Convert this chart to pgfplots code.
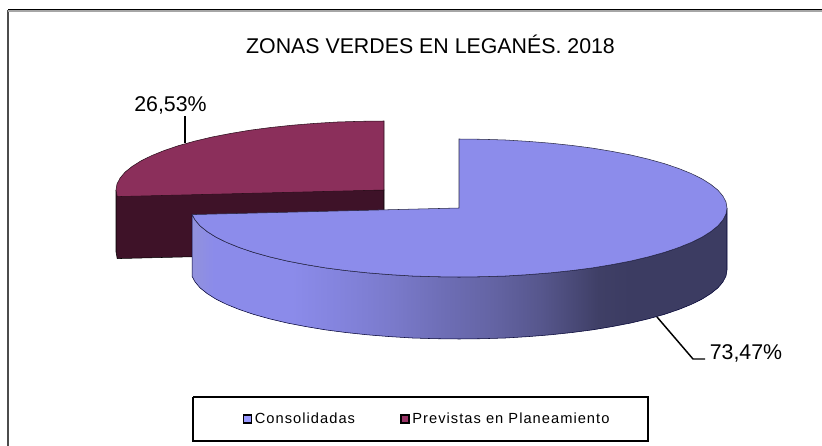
\documentclass[border=0pt]{standalone}
\usepackage{fontspec}
\setmainfont{Liberation Sans}
\newfontfamily\legfont[LetterSpace=7]{Liberation Sans}
\usepackage{pgfplots}
\pgfplotsset{compat=1.18}
\definecolor{bluetop}{HTML}{8C8CEB}
\definecolor{redtop}{HTML}{8B2F5B}
\definecolor{reddark}{HTML}{3E1228}
\definecolor{swblue}{HTML}{9999FF}
\definecolor{swred}{HTML}{993366}
\definecolor{g0}{HTML}{9292DC}
\definecolor{g1}{HTML}{8B8BEA}
\definecolor{g2}{HTML}{8383DC}
\definecolor{g3}{HTML}{7A7ACB}
\definecolor{g4}{HTML}{6E6EB6}
\definecolor{g5}{HTML}{6464A4}
\definecolor{g6}{HTML}{56568C}
\definecolor{g7}{HTML}{3F3F66}
\definecolor{g8}{HTML}{3C3C62}
\pgfdeclarehorizontalshading{sidegrad}{100bp}{
color(0bp)=(g0);color(25bp)=(g0);color(27bp)=(g1);color(34.35bp)=(g1);color(39.02bp)=(g2);color(43.69bp)=(g3);color(48.37bp)=(g4);color(53.04bp)=(g5);color(57.71bp)=(g6);color(63bp)=(g7);color(66bp)=(g8);color(100bp)=(g8)}
\begin{document}
\begin{tikzpicture}
\begin{axis}[
  scale only axis, width=616.5pt, height=334.5pt,
  xmin=0, xmax=822, ymin=0, ymax=446, y dir=reverse,
  hide axis, clip=true,
  legend style={at={(axis cs:427.5,419)}, anchor=center, draw=none, fill=none,
    font=\legfont\fontsize{11}{13}\selectfont, legend columns=2,
    /tikz/every even column/.append style={column sep=32pt}},
  legend cell align=left,
]
% page extent
\addplot[forget plot, white, line width=0pt] coordinates {(0,0)(822,0)(822,446)(0,446)(0,0)};
% frame
\addplot[forget plot, black!70, line width=1.1pt] coordinates {(8,446)(8,10)};
\addplot[forget plot, black!35, line width=0.8pt] coordinates {(8,11)(822,11)};
\addplot[forget plot, black, line width=0.8pt] coordinates {(8,9.8)(822,9.8)};
% legend box
\addplot[forget plot, black, line width=0.8pt] coordinates {(193,397)(648,397)(648,441)(193,441)(193,397)};
% red side
\addplot[forget plot, draw=black, line width=0.4pt, fill=reddark] coordinates {(116,190)(116,252)(117.2,258.6)(384,252)(384,190)(116,190)};
% red top
\addplot[forget plot, draw=black!70!redtop, line width=0.4pt, fill=redtop] coordinates {
(384,190)(384,121)(360.6,121.3)(337.5,122)(314.6,123.4)(292.3,125.2)(270.7,127.5)(250,130.2)(230.3,133.5)(211.7,137.1)(194.5,141.2)(178.7,145.6)(164.5,150.4)(151.9,155.5)(141.1,160.8)(132.2,166.4)(125.1,172.1)(120.1,178)(117,184)(116,190)(117.2,196.6)(384,190)};
% blue side
\addplot[forget plot, draw=black!80!blue, line width=0.4pt, shading=sidegrad, shading angle=0] coordinates {
(727,208)(726,214)(722.9,220)(717.9,225.9)(710.8,231.6)(701.9,237.2)(691.1,242.5)(678.5,247.6)(664.3,252.4)(648.5,256.8)(631.3,260.9)(612.7,264.5)(593,267.8)(572.3,270.5)(550.7,272.8)(528.4,274.6)(505.5,276)(482.4,276.7)(459,277)(435.6,276.7)(412.5,276)(389.6,274.6)(367.3,272.8)(345.7,270.5)(325,267.8)(305.3,264.5)(286.7,260.9)(269.5,256.8)(253.7,252.4)(239.5,247.6)(226.9,242.5)(216.1,237.2)(207.2,231.6)(200.1,225.9)(195.1,220)(192.2,214.6)
(192.2,276.6)(195.1,282)(200.1,287.9)(207.2,293.6)(216.1,299.2)(226.9,304.5)(239.5,309.6)(253.7,314.4)(269.5,318.8)(286.7,322.9)(305.3,326.5)(325,329.8)(345.7,332.5)(367.3,334.8)(389.6,336.6)(412.5,338)(435.6,338.7)(459,339)(482.4,338.7)(505.5,338)(528.4,336.6)(550.7,334.8)(572.3,332.5)(593,329.8)(612.7,326.5)(631.3,322.9)(648.5,318.8)(664.3,314.4)(678.5,309.6)(691.1,304.5)(701.9,299.2)(710.8,293.6)(717.9,287.9)(722.9,282)(726,276)(727,270)(727,208)};
% blue top
\addplot[forget plot, draw=black!70!bluetop, line width=0.4pt, fill=bluetop] coordinates {
(459,208)(459,139)(482.4,139.3)(505.5,140)(528.4,141.4)(550.7,143.2)(572.3,145.5)(593,148.2)(612.7,151.5)(631.3,155.1)(648.5,159.2)(664.3,163.6)(678.5,168.4)(691.1,173.5)(701.9,178.8)(710.8,184.4)(717.9,190.1)(722.9,196)(726,202)(727,208)(726,214)(722.9,220)(717.9,225.9)(710.8,231.6)(701.9,237.2)(691.1,242.5)(678.5,247.6)(664.3,252.4)(648.5,256.8)(631.3,260.9)(612.7,264.5)(593,267.8)(572.3,270.5)(550.7,272.8)(528.4,274.6)(505.5,276)(482.4,276.7)(459,277)(435.6,276.7)(412.5,276)(389.6,274.6)(367.3,272.8)(345.7,270.5)(325,267.8)(305.3,264.5)(286.7,260.9)(269.5,256.8)(253.7,252.4)(239.5,247.6)(226.9,242.5)(216.1,237.2)(207.2,231.6)(200.1,225.9)(195.1,220)(192.2,214.6)(459,208)};
% leader lines
\addplot[forget plot, black, line width=1.1pt] coordinates {(185,116)(185,143)};
\addplot[forget plot, black, line width=1.1pt] coordinates {(657,317)(693,359)(705,359)};
% legend entries
\addlegendimage{legend image code/.code={\draw[fill=swblue,draw=black,line width=1pt] (0pt,-3pt) rectangle (6pt,3pt);}}
\addlegendentry{Consolidadas}
\addlegendimage{legend image code/.code={\draw[fill=swred,draw=black,line width=1pt] (0pt,-3pt) rectangle (6pt,3pt);}}
\addlegendentry{Previstas en Planeamiento}
% text
\node[font=\fontsize{16}{19}\selectfont, text=black] at (axis cs:430.5,44) {ZONAS VERDES EN LEGANÉS. 2018};
\node[font=\fontsize{16}{19}\selectfont, text=black] at (axis cs:170.5,105) {26,53\%};
\node[font=\fontsize{16}{19}\selectfont, text=black] at (axis cs:746,353) {73,47\%};
\end{axis}
\end{tikzpicture}
\end{document}
